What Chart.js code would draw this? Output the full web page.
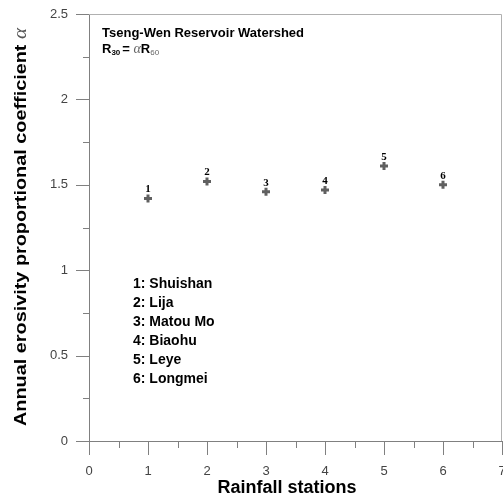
<!DOCTYPE html>
<html>
<head>
<meta charset="utf-8">
<script src="https://cdn.jsdelivr.net/npm/chart.js@4/dist/chart.umd.min.js"></script>
<style>
  html, body { margin: 0; padding: 0; background: #fff; }
  #wrap { width: 503px; height: 499px; }
</style>
</head>
<body>
<div id="wrap"><canvas id="myChart" width="503" height="499"></canvas></div>
<script>
// station number on the x axis, alpha on the y axis
const stationIds = [1, 2, 3, 4, 5, 6];
const alphaValues = [1.42, 1.52, 1.46, 1.47, 1.61, 1.50];
const stationNames = ['Shuishan', 'Lija', 'Matou Mo', 'Biaohu', 'Leye', 'Longmei'];
const xTicks = [0, 1, 2, 3, 4, 5, 6, 7];
const yTicks = [0, 0.5, 1, 1.5, 2, 2.5];

const points = stationIds.map((id, i) => ({ x: id, y: alphaValues[i] }));

function noPad(s) {
    s.paddingLeft = 0;
    s.paddingRight = 0;
    s.paddingTop = 0;
    s.paddingBottom = 0;
}

// tick marks, frame, point numbers and the text boxes
const extras = {
    id: 'extras',
    afterDraw(chart) {
        const ctx = chart.ctx;
        const xs = chart.scales.x;
        const ys = chart.scales.y;
        const area = chart.chartArea;
        ctx.save();

        // top and right frame
        ctx.strokeStyle = '#b0b0b0';
        ctx.lineWidth = 1;
        ctx.beginPath();
        ctx.moveTo(area.left, area.top + 0.5);
        ctx.lineTo(area.right - 0.5, area.top + 0.5);
        ctx.lineTo(area.right - 0.5, area.bottom);
        ctx.stroke();

        // ticks
        ctx.strokeStyle = '#808080';
        ctx.beginPath();
        for (let v = 0; v <= 2.5001; v += 0.25) {
            const py = Math.round(ys.getPixelForValue(v)) + 0.5;
            const len = Math.abs(v / 0.5 - Math.round(v / 0.5)) < 1e-6 ? 13 : 6;
            ctx.moveTo(area.left - len, py);
            ctx.lineTo(area.left, py);
        }
        for (let v = 0; v <= 7.0001; v += 0.5) {
            const px = Math.round(xs.getPixelForValue(v)) + 0.5;
            const len = Math.abs(v - Math.round(v)) < 1e-6 ? 14 : 7;
            ctx.moveTo(px, area.bottom);
            ctx.lineTo(px, area.bottom + len);
        }
        ctx.stroke();

        // point numbers
        const meta = chart.getDatasetMeta(0);
        ctx.fillStyle = '#000';
        ctx.font = 'bold 11px "Liberation Serif", "DejaVu Serif", serif';
        ctx.textAlign = 'center';
        ctx.textBaseline = 'alphabetic';
        meta.data.forEach((pt, i) => {
            ctx.fillText(String(stationIds[i]), pt.x, pt.y - 6);
        });

        // header text
        ctx.textAlign = 'left';
        ctx.font = 'bold 13px "Liberation Sans", Arial, sans-serif';
        ctx.fillText('Tseng-Wen Reservoir Watershed', 102, 37);
        let x = 102;
        const base = 53;
        ctx.fillText('R', x, base); x += ctx.measureText('R').width;
        ctx.font = 'bold 8px "Liberation Sans", Arial, sans-serif';
        ctx.fillText('30', x, base + 2); x += ctx.measureText('30').width + 2;
        ctx.font = 'bold 13px "Liberation Sans", Arial, sans-serif';
        ctx.fillText('=', x, base); x += ctx.measureText('= ').width;
        ctx.fillStyle = '#666';
        ctx.font = 'italic 14px "Liberation Serif", serif';
        ctx.fillText('α', x, base); x += ctx.measureText('α').width;
        ctx.fillStyle = '#000';
        ctx.font = 'bold 13px "Liberation Sans", Arial, sans-serif';
        ctx.fillText('R', x, base); x += ctx.measureText('R').width;
        ctx.fillStyle = '#666';
        ctx.font = '8px "Liberation Sans", Arial, sans-serif';
        ctx.fillText('60', x, base + 2);

        // station list
        ctx.fillStyle = '#000';
        ctx.font = 'bold 14px "Liberation Sans", Arial, sans-serif';
        stationNames.forEach((name, i) => {
            ctx.fillText(stationIds[i] + ': ' + name, 133, 288 + i * 19);
        });

        // axis titles
        ctx.font = 'bold 18px "Liberation Sans", Arial, sans-serif';
        ctx.textAlign = 'center';
        ctx.textBaseline = 'middle';
        ctx.fillText('Rainfall stations', 287, 488);

        ctx.translate(21, 227);
        ctx.rotate(-Math.PI / 2);
        const t1 = 'Annual erosivity proportional coefficient ';
        ctx.font = 'bold 17px "Liberation Sans", Arial, sans-serif';
        const w1 = ctx.measureText(t1).width;
        ctx.font = 'italic 18px "Liberation Serif", serif';
        const w2 = ctx.measureText('α').width;
        const stretch = 398 / (w1 + w2);
        ctx.scale(stretch, 1);
        const start = -(w1 + w2) / 2;
        ctx.textAlign = 'left';
        ctx.font = 'bold 17px "Liberation Sans", Arial, sans-serif';
        ctx.fillText(t1, start, 0);
        ctx.fillStyle = '#555';
        ctx.font = 'italic 18px "Liberation Serif", serif';
        ctx.fillText('α', start + w1, 0);
        ctx.restore();
    }
};

const ctx = document.getElementById('myChart').getContext('2d');
const chart = new Chart(ctx, {
    type: 'scatter',
    data: {
        datasets: [{
            label: 'alpha',
            data: points,
            pointStyle: 'cross',
            pointRadius: 4,
            pointHoverRadius: 4,
            borderWidth: 3,
            borderColor: '#606060',
            backgroundColor: '#606060'
        }]
    },
    options: {
        responsive: false,
        animation: false,
        devicePixelRatio: 1,
        layout: { autoPadding: false, padding: { top: 14, right: 1, left: 0, bottom: 0 } },
        plugins: { legend: { display: false }, tooltip: { enabled: false } },
        scales: {
            x: {
                type: 'linear',
                min: 0,
                max: 7,
                afterFit: (s) => { s.height = 58; noPad(s); },
                afterBuildTicks: (s) => { s.ticks = xTicks.map(v => ({ value: v })); },
                grid: { display: false, drawTicks: false },
                border: { display: true, color: '#808080' },
                ticks: {
                    padding: 23,
                    color: '#444',
                    font: { size: 13, family: '"Liberation Sans", Arial, sans-serif' },
                    maxRotation: 0,
                    autoSkip: false,
                    callback: (v) => String(v)
                }
            },
            y: {
                min: 0,
                max: 2.5,
                afterFit: (s) => { s.width = 89; noPad(s); },
                afterBuildTicks: (s) => { s.ticks = yTicks.map(v => ({ value: v })); },
                grid: { display: false, drawTicks: false },
                border: { display: true, color: '#808080' },
                ticks: {
                    padding: 21,
                    color: '#444',
                    font: { size: 13, family: '"Liberation Sans", Arial, sans-serif' },
                    autoSkip: false,
                    callback: (v) => String(v)
                }
            }
        }
    },
    plugins: [extras]
});
</script>
</body>
</html>
